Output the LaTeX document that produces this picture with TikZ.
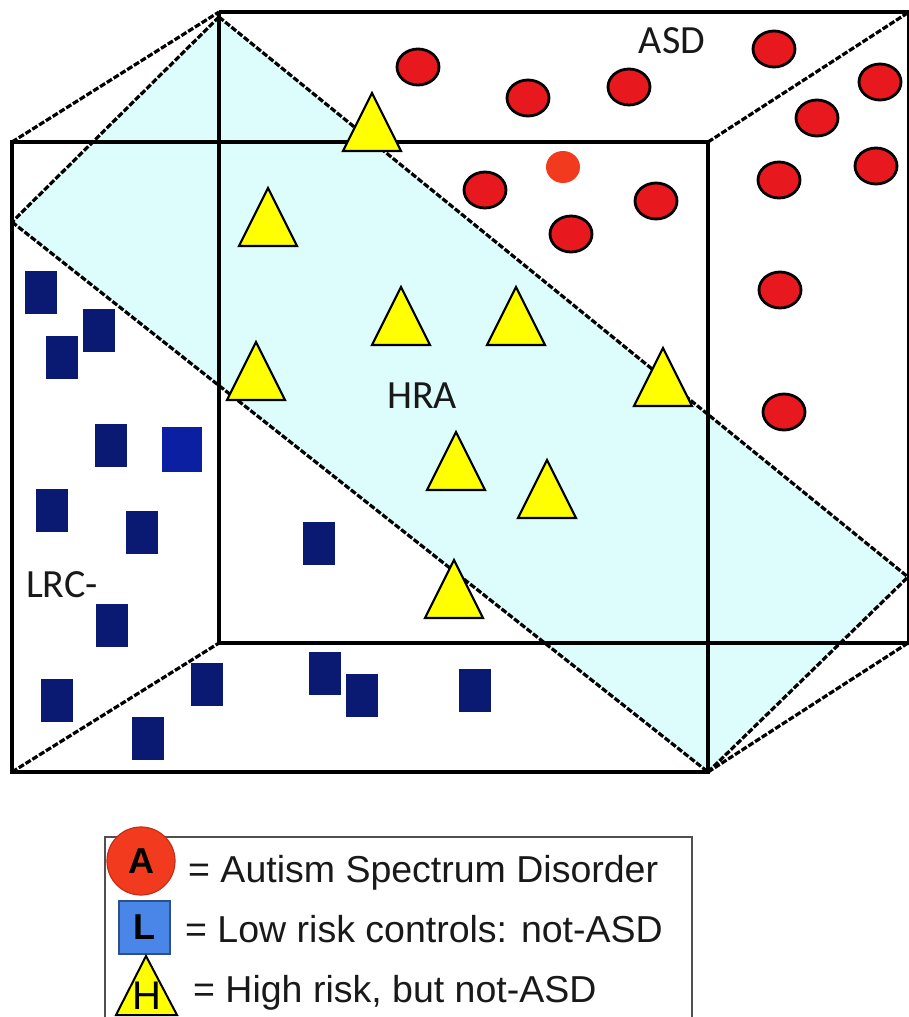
\documentclass[tikz,border=0pt]{standalone}
\usepackage{fontspec}
\setmainfont{Carlito}
\newfontfamily\legfont{Liberation Sans}
\usetikzlibrary{shapes.geometric}
\definecolor{planecol}{HTML}{DDFDFD}
\definecolor{asdred}{HTML}{E8191E}
\definecolor{asdorange}{HTML}{F23B1E}
\definecolor{navyrect}{HTML}{0A1A72}
\definecolor{brightnavy}{HTML}{0B1FA3}
\definecolor{legblue}{HTML}{4A86E8}
\definecolor{hrayellow}{HTML}{FFFF00}
\definecolor{legframe}{HTML}{505050}
\tikzset{
  solidedge/.style={line width=3.8pt, black},
  dashedge/.style={line width=3.2pt, black, dash pattern=on 6pt off 2pt},
  asdmark/.style={ellipse, draw=black, line width=2.8pt, fill=asdred, minimum width=42pt, minimum height=36pt, inner sep=0pt, outer sep=0pt},
  lrcmark/.style={rectangle, fill=navyrect, minimum width=32pt, minimum height=43pt, inner sep=0pt, outer sep=0pt},
  hramark/.style={isosceles triangle, shape border rotate=90, isosceles triangle stretches, draw=black, line width=2.2pt, fill=hrayellow, minimum width=58pt, minimum height=58pt, inner sep=0pt, outer sep=0pt, anchor=apex},
  grouplabel/.style={font=\fontsize{40}{48}\selectfont, text=black!90, inner sep=0pt},
  legtext/.style={font=\legfont\fontsize{37.5}{44}\selectfont, text=black!90, inner sep=0pt, anchor=base west}
}
\begin{document}
\begin{tikzpicture}[x=1pt,y=-1pt]
\useasboundingbox (0,0) rectangle (908,1017);
% corner coordinates
\coordinate (FTL) at (12,142);
\coordinate (FTR) at (708,142);
\coordinate (FBL) at (12,772);
\coordinate (FBR) at (708,772);
\coordinate (BTL) at (219,12);
\coordinate (BTR) at (909,12);
\coordinate (BBL) at (219,643);
\coordinate (BBR) at (909,643);
\coordinate (P1) at (219,17);
\coordinate (P2) at (908,577);
\coordinate (P3) at (12,222);
% plane
\fill[planecol] (P1) -- (P2) -- (FBR) -- (P3) -- cycle;
% back face
\draw[solidedge] (BTL) -- (BTR) (BTL) -- (BBL) -- (BBR) (BTR) -- (BBR);
% front face
\draw[solidedge] (FTL) rectangle (FBR);
% depth edges
\draw[dashedge] (FTL) -- (BTL);
\draw[dashedge] (FTR) -- (BTR);
\draw[dashedge] (FBL) -- (BBL);
\draw[dashedge] (FBR) -- (908,643);
% plane edges
\draw[dashedge] (P1) -- (P3);
\draw[dashedge] (P1) -- (P2);
\draw[dashedge] (P3) -- (FBR);
\draw[dashedge] (FBR) -- (P2);
% ASD markers
\foreach \x/\y [count=\i] in {418/67,528/98,629/87,774/49,880/82,817/118,876/166,779/180,485/190,656/201,571/234,780/290,784/412}
  \node[asdmark] (asd\i) at (\x,\y) {};
\node[ellipse, fill=asdorange, minimum width=34pt, minimum height=32pt, inner sep=0pt] (asdx) at (563,167) {};
% LRC markers
\foreach \x/\y [count=\i] in {41/292,99/330,62/357,111/445,52/510,142/532,319/543,112/625,57/700,148/738,207/684,325/673,362/695,475/690}
  \node[lrcmark] (lrc\i) at (\x,\y) {};
\node[rectangle, fill=brightnavy, minimum width=40pt, minimum height=45pt, inner sep=0pt] (lrcx) at (182,449) {};
% HRA markers
\foreach \x/\y [count=\i] in {372/93,268/188,401/287,516/287,256/342,663/348,456/432,547/460,454/560}
  \node[hramark] (hra\i) at (\x,\y) {};
% group labels
\node[grouplabel] (lasd) at (672,41) {ASD};
\node[grouplabel] (lhra) at (422,396) {HRA};
\node[grouplabel] (llrc) at (62,585) {LRC-};
% legend
\draw[legframe, line width=2.5pt] (105,837) rectangle (692,1025);
\node[circle, fill=asdorange, draw=asdorange!80!black, line width=1.2pt, minimum size=68pt, inner sep=0pt, font=\legfont\bfseries\fontsize{36}{40}\selectfont] (legA) at (141,861) {A};
\node[rectangle, fill=legblue, draw=legblue!60!black, line width=1.2pt, minimum width=51pt, minimum height=53pt, inner sep=0pt, font=\legfont\bfseries\fontsize{36}{40}\selectfont] (legL) at (144.5,927.5) {L};
\draw[black, line width=2pt, fill=hrayellow] (116,1015) -- (146,956) coordinate (legH) -- (177,1015) -- cycle;
\node[font=\legfont\fontsize{40}{44}\selectfont, inner sep=0pt] (legHt) at (147,996) {H};
\node[legtext] (t1) at (188,882) {= Autism Spectrum Disorder};
\node[legtext] (t2) at (185,942) {= Low risk controls: not-ASD};
\node[legtext] (t3) at (193,1002) {= High risk, but not-ASD};
\end{tikzpicture}
\end{document}
